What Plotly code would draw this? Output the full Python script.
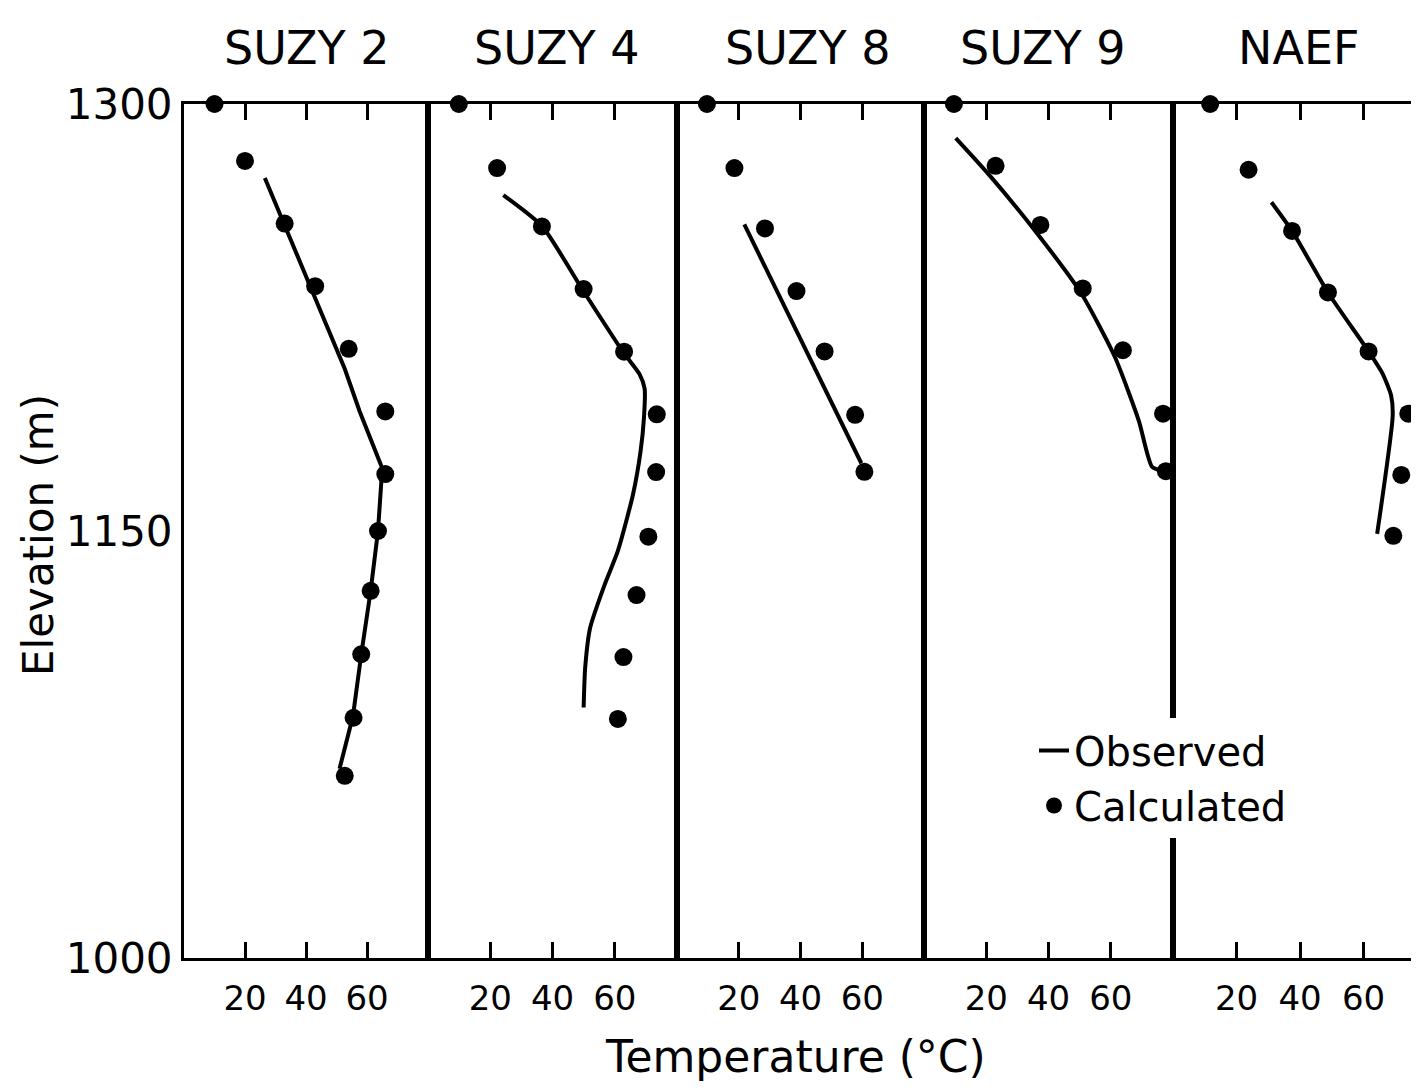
import plotly.graph_objects as go

# ---------------- data ----------------
panel_names = ["SUZY 2", "SUZY 4", "SUZY 8", "SUZY 9", "NAEF"]
temp_ticks = [20, 40, 60]
elev_ticks = [1000, 1150, 1300]
elev_tick_text = ["1000", "1150", "1300"]

# SUZY 2
suzy2_calc_t = [10, 20, 33, 43, 54, 66, 66, 63.6, 61.2, 58.1, 55.6, 52.7]
suzy2_calc_e = [1300, 1280, 1258, 1236, 1214, 1192, 1170, 1150, 1129, 1106.7, 1084.4, 1064]
suzy2_obs_t = [26.5, 52.7, 57.6, 65, 63.6, 61.2, 58.1, 55.4, 51]
suzy2_obs_e = [1274, 1207, 1192, 1172, 1150, 1129, 1106.5, 1085, 1066.5]

# SUZY 4
suzy4_calc_t = [9.9, 22.2, 36.6, 50, 63, 73.5, 73.3, 70.8, 67, 62.8, 61]
suzy4_calc_e = [1300, 1277.5, 1257, 1235, 1213, 1191, 1170.7, 1148, 1127.5, 1105.7, 1084]
suzy4_obs_t = [24.2, 36.7, 49.5, 62.6, 68, 69.6, 69.4, 68.3, 65.9, 61, 56.7, 52.1, 50.5, 50]
suzy4_obs_e = [1268, 1257, 1235, 1213, 1205, 1200, 1190, 1178, 1163, 1143, 1131, 1116, 1102, 1088]

# SUZY 8
suzy8_calc_t = [9.7, 18.6, 28.5, 38.7, 47.8, 57.7, 60.7]
suzy8_calc_e = [1300, 1277.5, 1256.3, 1234.3, 1213.1, 1190.8, 1170.8]
suzy8_obs_t = [21.8, 59.7]
suzy8_obs_e = [1257.7, 1173.8]

# SUZY 9
suzy9_calc_t = [9.6, 23, 37.4, 51, 63.9, 76.8, 77.7]
suzy9_calc_e = [1300, 1278.3, 1257.5, 1235.2, 1213.5, 1191.2, 1171]
suzy9_obs_t = [10.2, 21, 36.3, 50.5, 61.3, 69, 73.3, 77]
suzy9_obs_e = [1288, 1275, 1254.6, 1233.5, 1211.2, 1188.8, 1172.5, 1171]

# NAEF
naef_calc_t = [11.7, 23.8, 37.5, 48.8, 61.6, 74.1, 71.9, 69.4]
naef_calc_e = [1300, 1276.9, 1255.4, 1233.8, 1213.1, 1191.2, 1169.7, 1148.3]
naef_obs_t = [31, 37.5, 48.8, 61.6, 66, 68.7, 69.2, 64.3]
naef_obs_e = [1265.5, 1255.4, 1233.8, 1213.1, 1205.3, 1197.6, 1190.6, 1149]

calc_t = [suzy2_calc_t, suzy4_calc_t, suzy8_calc_t, suzy9_calc_t, naef_calc_t]
calc_e = [suzy2_calc_e, suzy4_calc_e, suzy8_calc_e, suzy9_calc_e, naef_calc_e]
obs_t = [suzy2_obs_t, suzy4_obs_t, suzy8_obs_t, suzy9_obs_t, naef_obs_t]
obs_e = [suzy2_obs_e, suzy4_obs_e, suzy8_obs_e, suzy9_obs_e, naef_obs_e]

# ---------------- styling ----------------
W, H = 1419, 1089
OFF = 8  # page body margin: screen px = figure px + OFF
FONT = "DejaVu Sans"
edges_scr = [184, 428, 677, 924, 1173, 1427]
title_cx_scr = [307, 557, 808, 1043, 1298]
y_top_scr, y_bot_scr = 104, 958
line_shapes = ["linear", "spline", "linear", "spline", "spline"]


def fx(px):
    return (px - OFF) / W


def fy(py):
    return 1 - (py - OFF) / H


fig = go.Figure()

for i in range(5):
    sfx = "" if i == 0 else str(i + 1)
    xa, ya = "x" + sfx, "y" + sfx
    fig.add_trace(go.Scatter(
        x=obs_t[i], y=obs_e[i], xaxis=xa, yaxis=ya, mode="lines",
        line=dict(color="black", width=4, shape=line_shapes[i], smoothing=0.6),
        name="Observed", showlegend=(i == 0), cliponaxis=False))
    fig.add_trace(go.Scatter(
        x=calc_t[i], y=calc_e[i], xaxis=xa, yaxis=ya, mode="markers",
        marker=dict(color="black", size=18),
        name="Calculated", showlegend=(i == 0), cliponaxis=False))

layout = dict(
    width=W, height=H,
    margin=dict(l=0, r=0, t=0, b=0, autoexpand=False),
    paper_bgcolor="white", plot_bgcolor="white",
    font=dict(family=FONT, color="black"),
    legend=dict(x=fx(1034), y=fy(718), xanchor="left", yanchor="top",
                font=dict(size=40, family=FONT, color="black"),
                bgcolor="white", tracegroupgap=0),
    annotations=[],
)

for i in range(5):
    sfx = "" if i == 0 else str(i + 1)
    xkey = "xaxis" + sfx
    ykey = "yaxis" + sfx
    layout[xkey] = dict(
        domain=[fx(edges_scr[i]), min(1.0, fx(edges_scr[i + 1]))],
        range=[0, 80], anchor="y" + sfx, automargin=False,
        tickvals=temp_ticks, ticktext=[str(v) for v in temp_ticks],
        ticks="inside", ticklen=16, tickwidth=2.5, tickcolor="black",
        showline=True, linecolor="black", linewidth=3, mirror="ticks",
        showgrid=False, zeroline=False,
        tickfont=dict(size=34, family=FONT, color="black"),
        ticklabelstandoff=8, fixedrange=True,
    )
    layout[ykey] = dict(
        domain=[fy(y_bot_scr), fy(y_top_scr)],
        range=[1000, 1300], anchor="x" + sfx, automargin=False,
        showline=True, linecolor="black", linewidth=3,
        mirror=(i < 4), showgrid=False, zeroline=False,
        ticks="", showticklabels=(i == 0),
        tickvals=elev_ticks, ticktext=elev_tick_text,
        tickfont=dict(size=42, family=FONT, color="black"),
        ticklabelstandoff=0, fixedrange=True,
    )
    layout["annotations"].append(dict(
        text=panel_names[i], xref="paper", yref="paper",
        x=fx(title_cx_scr[i]), y=fy(48),
        xanchor="center", yanchor="middle", showarrow=False,
        font=dict(size=46, family=FONT, color="black")))

layout["annotations"].append(dict(
    text="Temperature (°C)", xref="paper", yref="paper",
    x=fx(795), y=fy(1056), xanchor="center", yanchor="middle",
    showarrow=False, font=dict(size=44, family=FONT, color="black")))
layout["annotations"].append(dict(
    text="Elevation (m)", xref="paper", yref="paper",
    x=fx(38), y=fy(535), xanchor="center", yanchor="middle",
    textangle=-90, showarrow=False,
    font=dict(size=42, family=FONT, color="black")))

fig.update_layout(**layout)
fig.write_html("out.html")
